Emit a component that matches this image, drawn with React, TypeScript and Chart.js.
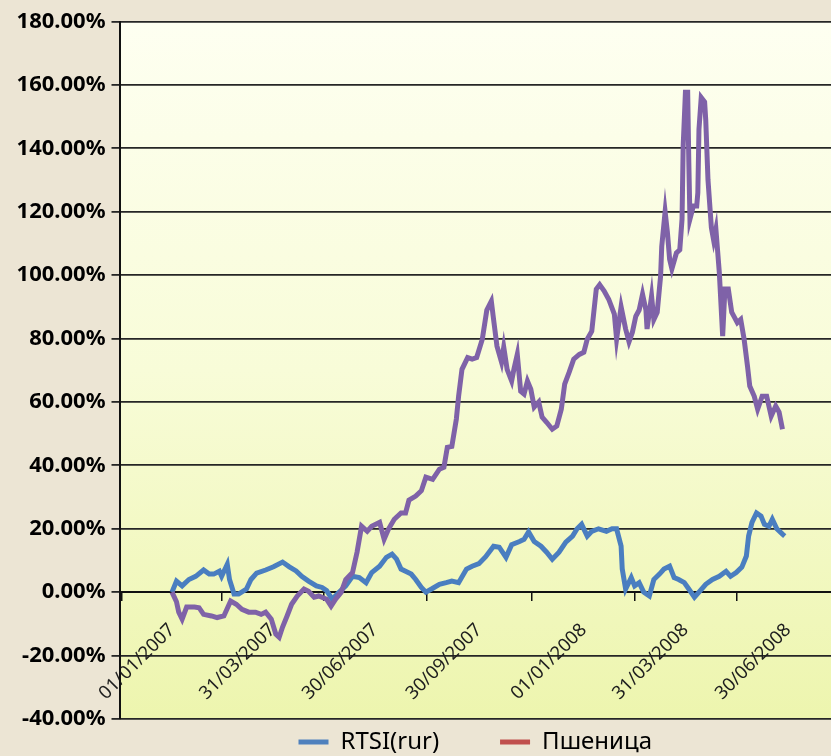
import React, { useEffect, useRef } from 'react';
import { Chart, registerables } from 'chart.js';

Chart.register(...registerables);

// X axis: days counted from 01/01/2007
const tickDays = [0, 89, 180, 272, 365, 455, 546];
const tickLabels = ['01/01/2007', '31/03/2007', '30/06/2007', '30/09/2007', '01/01/2008', '31/03/2008', '30/06/2008'];

const rtsiLabel = 'RTSI(rur)';
const wheatLabel = 'Пшеница';

const rtsiDays = [
  0, 4, 9, 15, 21, 28, 33, 37, 42, 44, 49, 51, 55, 59, 66, 70, 75, 83, 90, 98,
  104, 110, 115, 121, 128, 133, 137, 142, 148, 154, 160, 166, 172, 177, 184, 190, 195, 199, 203, 207,
  212, 216, 221, 225, 230, 237, 243, 248, 254, 261, 266, 272, 278, 285, 290, 296, 301, 308, 312, 316,
  321, 327, 332, 337, 343, 349, 355, 359, 363, 368, 372, 378, 385, 390, 394, 398, 399, 402, 407, 410,
  414, 418, 423, 427, 432, 436, 441, 445, 449, 454, 458, 463, 467, 473, 479, 485, 491, 495, 500, 505,
  509, 511, 514, 518, 522, 525, 529, 532, 536, 541, 543,
];
const rtsiValues = [
  0, 3.5, 2, 4, 5, 7, 5.7, 5.7, 6.6, 5, 8.8, 4, -0.6, -0.6, 1, 4, 6, 7, 8, 9.5,
  8, 6.7, 5, 3.5, 2, 1.5, 0.5, -2.2, 0, 2, 5, 4.6, 3, 6.2, 8.2, 11, 12, 10.4, 7.3, 6.6,
  5.7, 4, 1.5, 0, 1, 2.5, 3, 3.5, 3, 7.3, 8.2, 9, 11.2, 14.5, 14.2, 11, 15, 16, 16.7, 19,
  16, 14.5, 12.6, 10.4, 12.6, 15.8, 17.7, 20, 21.4, 17.7, 19.2, 20, 19.2, 20, 20, 14.5, 7.3, 1, 4.6, 2,
  3, 0, -1.2, 4, 5.7, 7.3, 8.2, 4.6, 4, 3, 1, -1.6, 0, 2.5, 4, 5, 6.6, 5, 6.2, 7.9,
  11.4, 17.7, 22, 25, 24, 21.4, 20.8, 23, 20, 18.3, 17.7,
];

const wheatDays = [
  0, 4, 6, 9, 13, 20, 24, 28, 35, 40, 46, 52, 57, 62, 68, 74, 79, 83, 88, 92,
  95, 98, 102, 106, 111, 117, 121, 126, 130, 137, 141, 145, 150, 154, 160, 164, 168, 173, 177, 184,
  188, 192, 197, 203, 207, 210, 216, 221, 225, 231, 237, 241, 244, 248, 252, 254, 257, 262, 266, 270,
  275, 279, 283, 285, 288, 292, 294, 297, 301, 303, 306, 309, 312, 315, 318, 321, 325, 328, 332, 337,
  341, 345, 348, 352, 356, 361, 365, 368, 372, 376, 379, 383, 387, 392, 394, 398, 402, 405, 408, 411,
  414, 417, 420, 421, 425, 427, 430, 433, 434, 437, 439, 441, 443, 447, 450, 452, 453, 455, 457, 458,
  459, 462, 465, 466, 467, 469, 472, 473, 475, 478, 480, 482, 485, 488, 490, 493, 496, 498, 501, 504,
  507, 510, 512, 516, 519, 523, 527, 531, 535, 538, 541,
];
const wheatValues = [
  0, -3, -6.3, -8.5, -4.7, -4.7, -4.9, -7, -7.5, -8, -7.5, -2.8, -3.8, -5.4, -6.3, -6.3, -7, -6.3, -8.5, -13.2,
  -14.2, -11, -7.5, -3.8, -1.2, 1, 0.3, -1.6, -1.2, -2.2, -4.4, -2.2, 0, 4, 6.2, 12.6, 20.8, 19.2, 20.8, 22,
  16.7, 20, 23, 25, 25, 29, 30.3, 32, 36.3, 35.6, 38.8, 39.4, 45.7, 46, 54.6, 61.8, 70.3, 74, 73.5, 74,
  79.8, 89, 91.8, 86, 77.6, 72.6, 77.3, 70.3, 66.6, 70.3, 75, 63.4, 62.5, 66.6, 64, 58.4, 60, 55.2, 53.6, 51.4,
  52.4, 57.7, 65.6, 69.4, 73.5, 75, 75.7, 79.8, 82.3, 95.6, 97, 95, 92.4, 87.7, 79.8, 90, 83, 79, 82, 87,
  89, 94, 89, 83, 93.4, 86, 88.3, 99.7, 109, 120, 113.6, 105, 102, 107, 108, 117.7, 140.7, 157.7, 157.7, 135.6,
  117.7, 121.8, 121.8, 126, 146, 156, 154.6, 149, 130, 115, 111, 114.5, 101, 80.8, 95.6, 95.6, 88.3, 87, 85, 86,
  79.8, 71.3, 65, 61.8, 57.7, 61.8, 61.8, 55.5, 58.7, 56.8, 51.4,
];

const yMin = -40;
const yMax = 180;
const yStep = 20;

const backgroundPlugin = {
  id: 'bgPlugin',
  beforeDraw(chart: any) {
    const { ctx, chartArea: a, width, height } = chart;
    ctx.save();
    ctx.fillStyle = '#ECE5D4';
    ctx.fillRect(0, 0, width, height);
    if (a) {
      const g = ctx.createLinearGradient(0, a.top, 0, a.bottom);
      g.addColorStop(0, '#FEFFF1');
      g.addColorStop(0.5, '#F8FCD8');
      g.addColorStop(1, '#EDF5AE');
      ctx.fillStyle = g;
      ctx.fillRect(a.left, a.top, a.right - a.left, a.bottom - a.top);
    }
    ctx.restore();
  },
};

export default function App() {
  const ref = useRef<HTMLCanvasElement | null>(null);

  useEffect(() => {
    document.body.style.margin = '0';
    const canvas = ref.current;
    if (!canvas) return;
    const chart = new Chart(canvas, {
      type: 'line',
      data: {
        datasets: [
          {
            label: rtsiLabel,
            data: rtsiDays.map((d, i) => ({ x: d, y: rtsiValues[i] })),
            borderColor: '#4A7EC0',
            backgroundColor: '#4A7EC0',
            borderWidth: 5,
            pointRadius: 0,
            tension: 0,
            order: 1,
          },
          {
            label: wheatLabel,
            data: wheatDays.map((d, i) => ({ x: d, y: wheatValues[i] })),
            borderColor: '#7F62A8',
            backgroundColor: '#7F62A8',
            borderWidth: 5,
            pointRadius: 0,
            tension: 0,
            order: 0,
          },
        ],
      },
      options: {
        responsive: false,
        animation: false,
        layout: { padding: { top: 21.5, left: 0, right: 0, bottom: -8 } },
        scales: {
          x: {
            type: 'linear',
            position: { y: 0 } as any,
            min: -46.5,
            max: 584,
            afterBuildTicks: (s: any) => {
              s.ticks = tickDays.map((v) => ({ value: v }));
            },
            ticks: {
              autoSkip: false,
              maxRotation: 45,
              minRotation: 45,
              callback: (_v: any, i: number) => tickLabels[i],
              font: { family: 'Noto Sans', size: 18.5 },
              color: '#1e1e1e',
              padding: 19,
            },
            grid: {
              drawOnChartArea: false,
              drawTicks: true,
              tickLength: 8,
              offset: true,
              color: '#111',
              lineWidth: 1.5,
            },
            border: { display: true, color: '#111', width: 2 },
          },
          y: {
            min: yMin,
            max: yMax,
            ticks: {
              stepSize: yStep,
              callback: (v: any) => Number(v).toFixed(2) + '%',
              font: { family: 'Noto Sans', size: 22, weight: 'bold' },
              color: '#000',
              padding: 6,
            },
            grid: { color: '#262626', lineWidth: 1.8, tickLength: 8 },
            border: { color: '#111', width: 2 },
            afterFit: (s: any) => {
              s.width = 119.5;
            },
          },
        },
        plugins: {
          legend: {
            position: 'bottom',
            fullSize: false,
            labels: {
              boxWidth: 30,
              boxHeight: 5,
              padding: 11,
              font: { family: 'Noto Sans', size: 24 },
              color: '#222',
              generateLabels: () => [
                { text: rtsiLabel + '        ', fillStyle: '#4F81BD', strokeStyle: '#4F81BD', lineWidth: 0, hidden: false, datasetIndex: 0 },
                { text: wheatLabel, fillStyle: '#C0504D', strokeStyle: '#C0504D', lineWidth: 0, hidden: false, datasetIndex: 1 },
              ],
            },
          },
          tooltip: { enabled: false },
        },
      } as any,
      plugins: [backgroundPlugin],
    });
    return () => chart.destroy();
  }, []);

  return <canvas ref={ref} width={831} height={756} style={{ display: 'block' }} />;
}
